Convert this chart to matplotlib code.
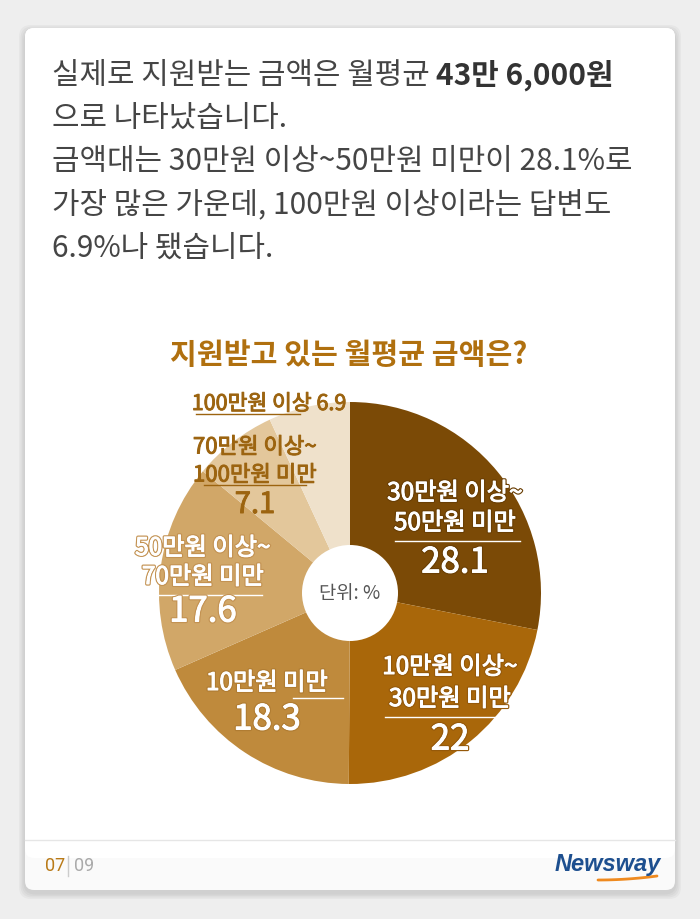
import matplotlib
matplotlib.use('Agg')
import matplotlib.pyplot as plt
import matplotlib.patheffects as pe
from matplotlib.patches import FancyBboxPatch, Rectangle, Circle
import numpy as np

plt.rcParams['font.family'] = ['Noto Sans CJK KR', 'DejaVu Sans']

# data
categories = ['30만원 이상~50만원 미만', '10만원 이상~30만원 미만', '10만원 미만',
              '50만원 이상~70만원 미만', '70만원 이상~100만원 미만', '100만원 이상']
values = [28.1, 22, 18.3, 17.6, 7.1, 6.9]
value_labels = ['28.1', '22', '18.3', '17.6', '7.1', '6.9']
colors = ['#7b4a06', '#a9670a', '#bf8a3c', '#d1a768', '#e3c79b', '#efe1cb']

title = '지원받고 있는 월평균 금액은?'
intro_lines = ['으로 나타났습니다.',
               '금액대는 30만원 이상~50만원 미만이 28.1%로',
               '가장 많은 가운데, 100만원 이상이라는 답변도',
               '6.9%나 됐습니다.']

W, H = 700, 919
fig = plt.figure(figsize=(W / 100, H / 100), dpi=100)
fig.patch.set_facecolor('#eeeeee')

# background / card
bg = fig.add_axes([0, 0, 1, 1], zorder=0)
bg.set_xlim(0, W); bg.set_ylim(H, 0); bg.axis('off')
for i, a in enumerate([0.03, 0.03, 0.03, 0.03]):
    s = 3 + i * 3
    bg.add_patch(FancyBboxPatch((25 - s / 2, 28 - s / 2 + 3), 650 + s, 862 + s,
                                boxstyle='round,pad=0,rounding_size=12',
                                fc='#000000', ec='none', alpha=a))
bg.add_patch(FancyBboxPatch((25, 28), 650, 862, boxstyle='round,pad=0,rounding_size=9',
                            fc='#fafafa', ec='none'))
bg.add_patch(FancyBboxPatch((25, 28), 650, 830, boxstyle='round,pad=0,rounding_size=9',
                            fc='white', ec='none'))
bg.add_patch(Rectangle((25, 500), 650, 340, fc='white', ec='none'))
bg.plot([25, 675], [840, 840], color='#e6e6e6', lw=1)

# pie
cx, cy, r = 350, 593, 191
pax = fig.add_axes([(cx - r) / W, (H - cy - r) / H, 2 * r / W, 2 * r / H], zorder=1)
pax.pie(values, colors=colors, startangle=90, counterclock=False, radius=1,
        wedgeprops=dict(linewidth=0))
pax.add_patch(Circle((0, 0), 48 / r, fc='white', ec='none', zorder=3))
pax.set_xlim(-1, 1); pax.set_ylim(-1, 1); pax.axis('off')

# overlay text
ax = fig.add_axes([0, 0, 1, 1], zorder=2)
ax.set_xlim(0, W); ax.set_ylim(H, 0); ax.axis('off')
ax.patch.set_alpha(0)

txt_col = '#454545'
fs_top = 21.5
t1 = ax.text(52, 75, '실제로 지원받는 금액은 월평균 ', fontsize=fs_top, color=txt_col,
             va='center', ha='left')
fig.canvas.draw()
ext = t1.get_window_extent(fig.canvas.get_renderer())
ax.text(ext.x1, 75, '43만 6,000원', fontsize=fs_top, color='#333333', fontweight='bold',
        va='center', ha='left')
for i, line in enumerate(intro_lines):
    ax.text(52, 118 + i * 43.5, line, fontsize=fs_top, color=txt_col, va='center', ha='left')

ax.text(349, 355, title, fontsize=21, color='#b0700f', fontweight='bold',
        ha='center', va='center')

ax.text(350, 593, '단위: %', fontsize=13.5, color='#555555', ha='center', va='center')

brown = '#9c6410'


def label(x, ys, lines, val, vy, col, ul, vsize=25, stroke=None, fs=17.5):
    fx = [pe.withStroke(linewidth=0.7, foreground=col)]
    if stroke:
        fx = [pe.withStroke(linewidth=2.4, foreground=stroke),
              pe.withStroke(linewidth=0.7, foreground=col)]
    for yy, ln in zip(ys, lines):
        ax.text(x, yy, ln, fontsize=fs, color=col, ha='center', va='center',
                path_effects=fx)
    if val is not None:
        ax.text(x, vy, val, fontsize=vsize, color=col, ha='center', va='center',
                path_effects=fx)
    ax.plot([ul[0], ul[1]], [ul[2], ul[2]], color=col, lw=1)


label(455, [493, 523], ['30만원 이상~', '50만원 미만'], value_labels[0], 563, 'white',
      (395, 520, 541), stroke='#6a3f05')
label(450, [667, 699], ['10만원 이상~', '30만원 미만'], value_labels[1], 740, 'white',
      (385, 513, 717), stroke='#95590a')
label(267, [683], ['10만원 미만'], value_labels[2], 720, 'white', (293, 343, 698),
      stroke='#b07c32')
label(203, [548, 577], ['50만원 이상~', '70만원 미만'], value_labels[3], 612, 'white',
      (142, 262, 595), stroke='#c39252')
label(255, [447, 475], ['70만원 이상~', '100만원 미만'], value_labels[4], 505, brown,
      (204, 306, 485), vsize=21, fs=16)
label(269, [404], ['100만원 이상 ' + value_labels[5]], None, None, brown, (196, 300, 414),
      fs=15.5)

# footer
ax.text(45, 866, '07', fontsize=13, color='#b97a17', ha='left', va='center',
        family=['Roboto', 'DejaVu Sans'])
ax.plot([68, 68], [856, 876], color='#cccccc', lw=1)
ax.text(74, 866, '09', fontsize=13, color='#aaaaaa', ha='left', va='center',
        family=['Roboto', 'DejaVu Sans'])
ax.text(661, 864, 'Newsway', fontsize=17, color='#1d4f8f', ha='right', va='center',
        fontweight='bold', fontstyle='italic', family=['Liberation Sans', 'DejaVu Sans'])
sx = np.linspace(598, 657, 40)
sy = 878 + 4 * (1 - ((sx - 598) / 59) ** 2) - 2
ax.plot(sx, sy, color='#ef8a1f', lw=2, solid_capstyle='round')

fig.savefig('out.png', dpi=100, facecolor=fig.get_facecolor())
